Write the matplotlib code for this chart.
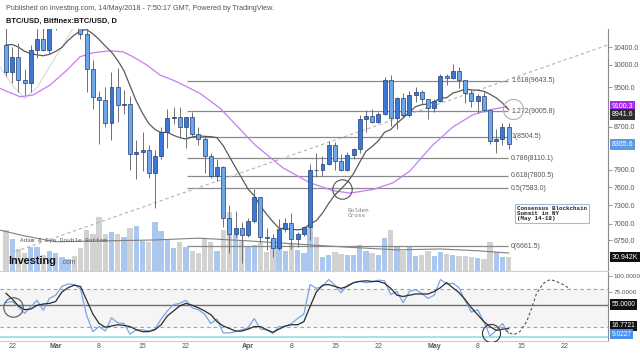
import numpy as np
import pandas as pd
import matplotlib
matplotlib.use("Agg")
import matplotlib.pyplot as plt
from matplotlib.transforms import blended_transform_factory as blend
from matplotlib.ticker import NullLocator, NullFormatter

plt.rcParams['font.family'] = ['Liberation Sans', 'DejaVu Sans']

# ---------------- data ----------------
start_date = '2018-02-22'

opens = [10450, 9830, 10160, 9670, 9600, 10330, 10580, 10330, 10920, 11030,
         11440, 11500, 11430, 10700, 9900, 9300, 9230, 8780, 9520, 9130,
         9160, 8180, 8230, 8260, 7850, 8150, 8600, 8880, 8900, 8700,
         8900, 8560, 8470, 8140, 7800, 7950, 7100, 6850, 6930, 6830,
         7050, 7430, 6800, 6780, 6630, 6920, 7020, 6770, 6840, 6950,
         7900, 7890, 8010, 8350, 8060, 7900, 8170, 8280, 8860, 8920,
         8800, 8950, 9650, 8870, 9280, 8940, 9350, 9400, 9250, 9070,
         9220, 9750, 9700, 9850, 9650, 9380, 9220, 9330, 9030, 8430,
         8470, 8690]
highs = [10950, 10400, 10500, 9900, 10450, 10850, 11050, 11050, 11200, 11530,
         11500, 11700, 11430, 10900, 10100, 9420, 9500, 9830, 9920, 9450,
         9330, 8450, 8600, 8350, 8250, 8700, 9050, 9100, 9100, 8900,
         9000, 8700, 8500, 8200, 8100, 7970, 7300, 7200, 7030, 7100,
         7560, 7440, 6930, 6850, 7070, 7100, 7180, 6880, 6960, 8000,
         8200, 8150, 8420, 8400, 8180, 8230, 8300, 8930, 9030, 9050,
         9000, 9730, 9760, 9300, 9390, 9420, 9520, 9450, 9260, 9250,
         9800, 9800, 10020, 9950, 9660, 9470, 9370, 9400, 9030, 8650,
         8780, 8780]
lows = [9750, 9600, 9400, 9350, 9400, 10150, 10300, 10250, 10800, 11000,
        11050, 11400, 10600, 9400, 9050, 8380, 8700, 8450, 8800, 8950,
        7900, 7740, 7880, 7750, 7250, 8100, 8300, 8750, 8500, 8300,
        8500, 8350, 7850, 7750, 7700, 6950, 6560, 6800, 6420, 6800,
        7020, 6700, 6600, 6500, 6600, 6880, 6620, 6650, 6820, 6750,
        7770, 7800, 7980, 7900, 7880, 7880, 8100, 8200, 8600, 8780,
        8780, 8930, 8720, 8650, 8900, 8900, 9200, 9150, 8850, 9000,
        9200, 9550, 9680, 9480, 9180, 9100, 8980, 9000, 8380, 8200,
        8350, 8280]
closes = [9830, 10160, 9670, 9600, 10330, 10580, 10330, 10920, 11030, 11440,
          11500, 11430, 10700, 9900, 9300, 9230, 8780, 9520, 9130, 9160,
          8180, 8230, 8260, 7850, 8150, 8600, 8880, 8900, 8700, 8900,
          8560, 8470, 8140, 7800, 7950, 7100, 6850, 6930, 6830, 7050,
          7430, 6800, 6780, 6630, 6920, 7020, 6770, 6840, 6950, 7900,
          7890, 8010, 8350, 8060, 7900, 8170, 8280, 8860, 8920, 8800,
          8950, 9650, 8870, 9280, 8940, 9350, 9400, 9250, 9070, 9220,
          9750, 9700, 9850, 9650, 9380, 9220, 9330, 9030, 8430, 8470,
          8690, 8365.6]
volumes_k = [91, 71, 49, 40, 53, 53, 36, 45, 40, 31,
             27, 33, 51, 91, 82, 120, 82, 87, 82, 76,
             96, 100, 67, 65, 109, 89, 69, 51, 65, 53,
             45, 40, 74, 65, 45, 91, 131, 80, 67, 53,
             58, 62, 42, 62, 74, 45, 62, 47, 40, 96,
             76, 31, 36, 42, 38, 36, 36, 58, 45, 40,
             36, 74, 91, 56, 45, 53, 33, 36, 45, 33,
             42, 38, 36, 33, 33, 31, 29, 27, 65, 42,
             31, 30.942]
vol_ma_idx = [-1, 3, 8, 16, 24, 31, 39, 49, 55, 63, 70, 76, 81]
vol_ma_k = [91, 78, 65, 67, 69, 73, 67, 58, 53, 47, 49, 45, 40]

# 10-day SMA (first values)
ma_fast_head = [10450, 10460, 10400, 10300, 10250, 10220, 10200, 10230, 10300]
# slow MA (purple)
ma_slow_idx = [-0.97, 2.26, 4.35, 7.09, 9.83, 11.92, 14.02, 16.76, 18.85, 20.46,
               22.72, 24.81, 26.91, 28.04, 31.26, 34.48, 40.12, 44.63, 48.98,
               52.69, 55.43, 59.14, 62.36, 65.1, 68.64, 72.03, 75.25, 77.99, 80.73]
ma_slow = [9480, 9305, 9340, 9551, 9877, 10176, 10268, 10314, 10291, 10176,
           9988, 9768, 9659, 9587, 9375, 9071, 8354, 7935, 7674,
           7540, 7500, 7560, 7674, 7882, 8336, 8698, 8938, 9040, 9101]
ma_faint_idx = [-1, 1, 3, 5, 7, 9, 11]
ma_faint = [9950, 9550, 9270, 9500, 9950, 10400, 10900]

stoch_k = [58, 60, 52, 41, 52, 62, 46, 65, 70, 84,
           88, 87, 80, 38, 12, 20, 13, 34, 26, 25,
           8, 15, 15, 13, 16, 32, 45, 55, 57, 62,
           50, 47, 40, 25, 32, 10, 10, 12, 15, 18,
           33, 16, 15, 9, 20, 20, 25, 33, 40, 87,
           81, 84, 95, 86, 74, 86, 90, 92, 90, 91,
           94, 93, 71, 76, 58, 76, 79, 73, 65, 70,
           95, 88, 89, 82, 61, 43, 47, 28, 5, 14,
           25, 9.0227]
stoch_d = [73, 64, 53, 47, 48, 54, 56, 57, 60, 75,
           82, 86, 84, 62, 40, 25, 19, 21, 23, 22,
           20, 15, 12, 12, 15, 23, 37, 45, 53, 57,
           54, 50, 45, 39, 28, 21, 17, 13, 13, 16,
           20, 20, 15, 11, 16, 21, 23, 23, 28, 52,
           75, 86, 87, 84, 81, 84, 90, 92, 93, 92,
           92, 89, 81, 70, 68, 70, 72, 72, 72, 76,
           82, 90, 82, 74, 63, 50, 39, 28, 20, 14,
           16, 16.7721]
proj_idx = [80.5, 81.8, 82.8, 83.9, 84.7, 85.5, 86.6, 87.7, 88.7, 89.8, 90.9]
proj_val = [14, 7, 12, 28, 49, 73, 89, 95, 92, 87, 80]

fib_ratios = ['1.618', '1.272', '1', '0.786', '0.618', '0.5', '0']
fib_prices = [9643.5, 9005.8, 8504.5, 8110.1, 7800.5, 7583.0, 6661.5]

trend_idx = [1.5, 97.0]
trend_price = [6580, 10450]

price_ticks = [10400, 10000, 9500, 8700, 7900, 7600, 7300, 7000, 6750]
stoch_ticks = [100, 75]
stoch_tick_labels = ['100.0000', '75.0000']

tick_dates = ['2018-02-22', '2018-03-01', '2018-03-08', '2018-03-15', '2018-03-22',
              '2018-04-01', '2018-04-08', '2018-04-15', '2018-04-22', '2018-05-01',
              '2018-05-08', '2018-05-15', '2018-05-22']
tick_text = ['22', 'Mar', '8', '15', '22', 'Apr', '8', '15', '22', 'May', '8', '15', '22']

# ---------------- figure ----------------
W, H = 640, 353
fig = plt.figure(figsize=(6.4, 3.53), dpi=100)
fig.patch.set_facecolor('white')

def fy(py):
    return 1 - py / H

AX_R = 607.7 / W
ax = fig.add_axes([0, fy(271), AX_R, (271 - 29) / H])
ax2 = fig.add_axes([0, fy(341), AX_R, (341 - 272) / H])

n = len(closes)
idx = np.arange(n)
o = np.array(opens, float); c = np.array(closes, float)
h = np.array(highs, float); l = np.array(lows, float)
up = c >= o
XL = (-0.967, 96.96)

# volume overlay
vax = ax.twinx()
ax.set_zorder(vax.get_zorder() + 1)
ax.patch.set_visible(False)
vcols = np.where(up, '#aac7f0', '#d2d2d2')
vax.bar(idx, volumes_k, width=0.86, color=vcols, linewidth=0, zorder=1)
vax.plot(vol_ma_idx, vol_ma_k, color='#808080', lw=0.8, zorder=2)
vax.set_ylim(0, 538)
vax.set_xlim(*XL)
vax.axis('off')

# price panel
ax.set_yscale('log')
ax.set_xlim(*XL)
ax.set_ylim(6299, 10829)

# fib lines
ax.hlines(fib_prices, 29.2, 80.9, color='#8a8a8a', lw=0.9, zorder=2)
for r, p in zip(fib_ratios, fib_prices):
    ax.text(81.4, p, f'{r}({p:.1f})', fontsize=5.0, color='#555555',
            ha='left', va='center', zorder=6)

# trend line
ax.plot(trend_idx, trend_price, color='#b3b3b3', lw=0.8, ls=(0, (3, 2.5)), zorder=2)

# moving averages
ma_fast = pd.Series(closes).rolling(10).mean().to_numpy()
ma_fast[:len(ma_fast_head)] = ma_fast_head
ax.plot(ma_faint_idx, ma_faint, color='#d9d9d9', lw=0.8, zorder=2)
ax.plot(ma_slow_idx, ma_slow, color='#c77cf6', lw=0.9, zorder=3)
ax.plot(idx, ma_fast, color='#5a5a5a', lw=0.9, zorder=3)

# candles
ax.vlines(idx, l, h, color='#707070', lw=0.7, zorder=4)
body_bot = np.minimum(o, c)
body_h = np.maximum(np.abs(c - o), 12)
ccols = np.where(up, '#3b77d6', '#6ea6ee')
ax.bar(idx, body_h, bottom=body_bot, width=0.64, color=ccols,
       edgecolor='#203f70', linewidth=0.5, zorder=5)

# annotations
ax.plot([54.2], [7575], marker='o', ms=14, mfc='none', mec='#555555', mew=0.8, zorder=6)
ax.plot([81.7], [9051], marker='o', ms=14.5, mfc='none', mec='#b0b0b0', mew=0.8, zorder=6, clip_on=False)
ax.text(55.1, 7251, 'Golden\nCross', family='Liberation Mono', fontsize=4.3,
        color='#777777', ha='left', va='top', linespacing=1.0, zorder=6)
ax.text(2.26, 6737, 'Adam & Eye Double Bottom', family='Liberation Mono', fontsize=4.3,
        color='#555555', ha='left', va='center', zorder=6)
ax.text(82.4, 7283, 'Consensus Blockchain\nSummit in NY\n(May 14-18)',
        family='Liberation Mono', fontweight='bold', fontsize=4.2, color='#222222',
        ha='left', va='top', linespacing=0.95, zorder=7,
        bbox=dict(boxstyle='square,pad=0.35', fc='white', ec='#9dbde2', lw=0.8))

# axes styling
for a in (ax, ax2):
    a.spines['top'].set_visible(False)
    a.spines['left'].set_visible(False)
    a.spines['right'].set_color('#8a8a8a')
    a.spines['right'].set_linewidth(0.8)
    a.spines['bottom'].set_color('#cfcfcf')
    a.spines['bottom'].set_linewidth(0.8)

ax.yaxis.tick_right()
ax.yaxis.set_minor_locator(NullLocator())
ax.yaxis.set_minor_formatter(NullFormatter())
ax.set_yticks(price_ticks)
ax.set_yticklabels([f'{v:.1f}' for v in price_ticks])
ax.yaxis.set_minor_locator(NullLocator())
ax.tick_params(axis='y', length=3, width=0.6, color='#8a8a8a', labelsize=5.0,
               labelcolor='#555555', pad=1.5)
ax.tick_params(axis='x', bottom=False, labelbottom=False)

def tag(axis, y, text, fc, size=5.0):
    axis.text(1.0065, y, text, transform=blend(axis.transAxes, axis.transData),
              ha='left', va='center', fontsize=size, color='white', clip_on=False,
              zorder=10, bbox=dict(boxstyle='square,pad=0.25', fc=fc, ec='none'))

tag(ax, 9100.3, '9100.3', '#a52cf0')
tag(ax, 8941.6, '8941.6', '#2e2e2e')
tag(ax, 8365.6, '8365.6', '#5d9be6')
tag(vax, 30.942, '30.942K', '#111111')

# stochastic panel
ax2.set_xlim(*XL)
ax2.set_ylim(-2.9, 107)
ax2.axhspan(20, 80, color='#f5f5f5', zorder=0)
ax2.axhline(80, color='#a0a0a0', lw=0.8, ls=(0, (3, 3)), zorder=1)
ax2.axhline(20, color='#a0a0a0', lw=0.8, ls=(0, (3, 3)), zorder=1)
ax2.axhline(55, color='#707070', lw=1.0, zorder=1)
ax2.axhline(3.5, color='#9be1ea', lw=1.3, zorder=1)
ax2.plot(idx, stoch_k, color='#78a5ec', lw=0.9, zorder=3)
ax2.plot(idx, stoch_d, color='#2c2c2c', lw=0.9, zorder=4)
ax2.plot(proj_idx, proj_val, color='#555555', lw=0.8, ls=(0, (2.5, 2)), zorder=4)
ax2.plot([1.13], [51.7], marker='o', ms=14, mfc='none', mec='#555555', mew=0.8, zorder=5)
ax2.plot([78.1], [10.3], marker='o', ms=13, mfc='none', mec='#333333', mew=0.8, zorder=5)

ax2.yaxis.tick_right()
ax2.set_yticks(stoch_ticks)
ax2.set_yticklabels(stoch_tick_labels)
ax2.tick_params(axis='y', length=3, width=0.6, color='#8a8a8a', labelsize=4.6,
                labelcolor='#555555', pad=1.2)
tag(ax2, 55, '55.0000', '#111111', 4.8)
tag(ax2, 21.3, '16.7721', '#111111', 4.8)
tag(ax2, 7.9, '9.0227', '#4a8ff0', 4.8)

start = pd.Timestamp(start_date)
label_shift = 1.0
tick_pos = [(pd.Timestamp(d) - start).days + label_shift for d in tick_dates]
ax2.set_xticks(tick_pos)
ax2.set_xticklabels(tick_text)
ax2.tick_params(axis='x', length=0, labelsize=5.0, labelcolor='#555555', pad=1.5)
for lab in ax2.get_xticklabels():
    if lab.get_text() in ('Mar', 'Apr', 'May'):
        lab.set_fontweight('bold')

# header
fig.text(6 / W, fy(9), 'Published on Investing.com, 14/May/2018 - 7:50:17 GMT, Powered by TradingView.',
         fontsize=5.25, color='#555555', ha='left', va='center')
fig.text(6 / W, fy(21), 'BTC/USD, Bitfinex:BTC/USD, D', fontsize=5.4, fontweight='bold',
         color='#111111', ha='left', va='center')

# logo
fig.text(8 / W, fy(261), 'Investing', fontsize=7.8, fontweight='bold',
         color='#111111', ha='left', va='center')
fig.text(61 / W, fy(262.5), '.com', fontsize=4.8, color='#666666', ha='left', va='center')

fig.savefig('out.png', dpi=100, facecolor='white')
